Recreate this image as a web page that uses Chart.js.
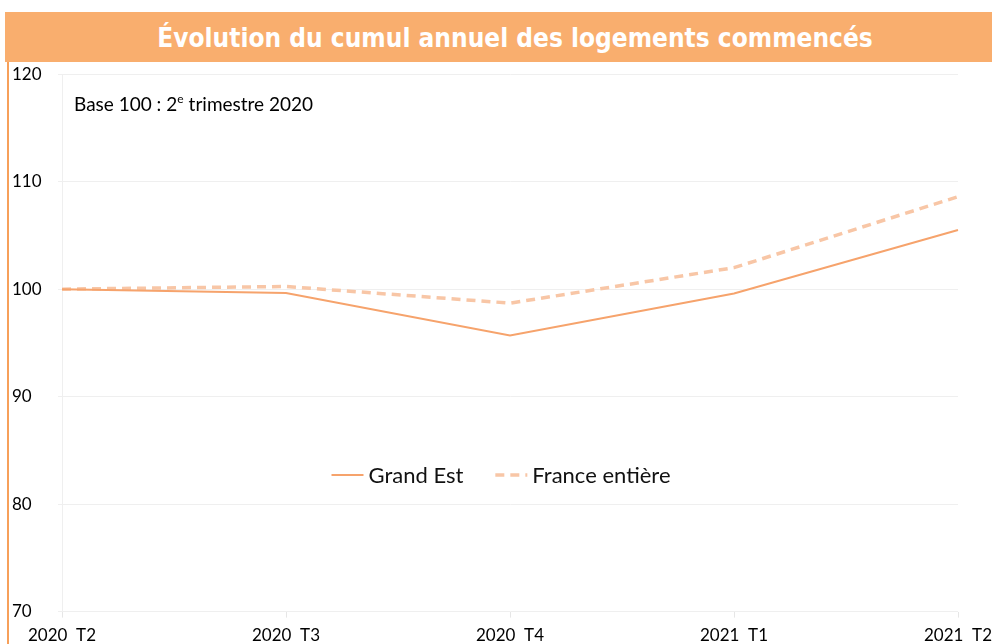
<!DOCTYPE html>
<html>
<head>
<meta charset="utf-8">
<script src="https://cdn.jsdelivr.net/npm/chart.js@4.4.1/dist/chart.umd.min.js"></script>
<style>
  html, body { margin: 0; padding: 0; background: #fff; overflow: hidden; width: 992px; height: 644px; }
  #titre {
    position: absolute; left: 5px; top: 12px; width: 1020px; height: 50px;
    background: #F9AE6E; color: #fff; text-align: center;
    font-family: "Liberation Sans Narrow", "DejaVu Sans Condensed", sans-serif;
    font-weight: bold; font-size: 26px; line-height: 52px; z-index: 2;
  }
  #bord { position: absolute; left: 7px; top: 62px; width: 2px; height: 582px; background: #F7A05A; z-index: 2; }
  #zone { position: absolute; left: 0; top: 60px; width: 1040px; height: 594px; }
</style>
</head>
<body>
<div id="titre">Évolution du cumul annuel des logements commencés</div>
<div id="bord"></div>
<div id="zone"><canvas id="graph" width="1040" height="594"></canvas></div>
<script>
const trimestres = ['2020  T2', '2020  T3', '2020  T4', '2021  T1', '2021  T2'];
const grandEst = [100, 99.65, 95.7, 99.6, 105.5];
const franceEntiere = [100, 100.25, 98.7, 102.0, 108.6];
const yTicks = [70, 80, 90, 100, 110, 120];

const police = 'Lato, "Open Sans", sans-serif';

// legende et mention "Base 100" dessinees dans la zone du graphique
const extras = {
    id: 'extras',
    afterDraw(chart) {
        const ctx = chart.ctx;
        const area = chart.chartArea;
        ctx.save();
        ctx.fillStyle = '#000';
        ctx.textBaseline = 'alphabetic';
        ctx.font = '19px ' + police;
        let x = area.left + 12;
        const yb = area.top + 37;
        ctx.fillText('Base 100 : 2', x, yb);
        x += ctx.measureText('Base 100 : 2').width;
        ctx.font = '12px ' + police;
        ctx.fillText('e', x, yb - 8);
        x += ctx.measureText('e').width + 5;
        ctx.font = '19px ' + police;
        ctx.fillText('trimestre 2020', x, yb);

        // legende
        const ly = area.top + 0.746 * (area.bottom - area.top);
        ctx.font = '22px ' + police;
        ctx.textBaseline = 'middle';
        const items = chart.data.datasets.map(d => ({
            label: d.label, color: d.borderColor, dash: d.borderDash || [], width: d.borderWidth,
            tw: ctx.measureText(d.label).width
        }));
        const sample = 32, gap = 5, between = 32;
        let total = 0;
        items.forEach((it, i) => { total += sample + gap + it.tw + (i ? between : 0); });
        let lx = (area.left + area.right) / 2 - 9 - total / 2;
        items.forEach((it, i) => {
            if (i) lx += between;
            ctx.beginPath();
            ctx.strokeStyle = it.color;
            ctx.lineWidth = it.width;
            ctx.setLineDash(it.dash);
            ctx.moveTo(lx, ly);
            ctx.lineTo(lx + sample, ly);
            ctx.stroke();
            ctx.setLineDash([]);
            ctx.fillStyle = '#111';
            ctx.fillText(it.label, lx + sample + gap, ly + 1);
            lx += sample + gap + it.tw;
        });
        ctx.restore();
    }
};

new Chart(document.getElementById('graph'), {
    type: 'line',
    data: {
        labels: trimestres,
        datasets: [
            {
                label: 'Grand Est',
                data: grandEst,
                borderColor: '#F6A36C',
                borderWidth: 2,
                pointRadius: 0,
                tension: 0
            },
            {
                label: 'France entière',
                data: franceEntiere,
                borderColor: '#F8C6A6',
                borderWidth: 3.5,
                borderDash: [9, 6],
                pointRadius: 0,
                tension: 0
            }
        ]
    },
    options: {
        responsive: false,
        animation: false,
        layout: { padding: { left: 12, top: 8, right: 82, bottom: 0 } },
        plugins: {
            legend: { display: false },
            tooltip: { enabled: false }
        },
        scales: {
            x: {
                offset: false,
                grid: { drawOnChartArea: false, color: '#E6E6E6', tickLength: 6 },
                border: { display: false },
                ticks: { color: '#000', font: { family: police, size: 17 }, padding: 8, maxRotation: 0, autoSkip: false }
            },
            y: {
                min: 70,
                max: 120,
                afterBuildTicks(scale) { scale.ticks = yTicks.map(v => ({ value: v })); },
                afterFit(scale) { scale.width = 50; },
                grid: { color: '#EFEFEF', tickLength: 4 },
                border: { display: true, color: '#EFEFEF' },
                ticks: { color: '#000', font: { family: police, size: 17 }, crossAlign: 'far', padding: 4 }
            }
        }
    },
    plugins: [extras]
});
</script>
</body>
</html>
